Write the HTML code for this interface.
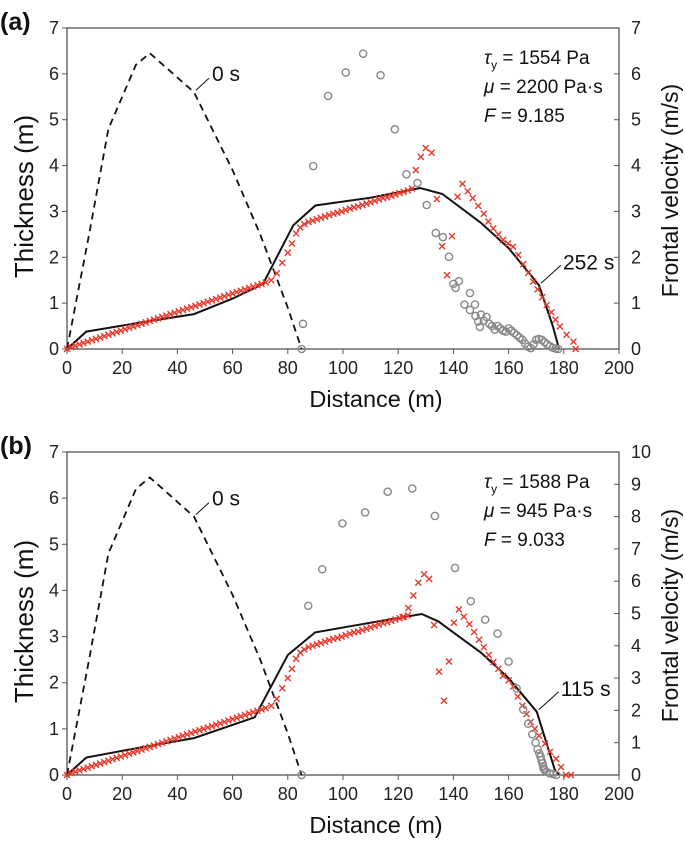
<!DOCTYPE html>
<html><head><meta charset="utf-8"><style>
body{margin:0;background:#fff;}
svg{display:block;font-family:"Liberation Sans",sans-serif;}
</style></head><body>
<svg id="c" width="685" height="848"></svg>
<script>
const initX = [0,8,15,25,30,46,60,70,80,85];
const initY = [0,2.5,4.8,6.2,6.45,5.6,3.9,2.5,0.9,0];
const simAX = [0,7,27,46,60,71,82,90,110,128,136,150,160,171,176,178.3];
const simAY = [0,0.38,0.58,0.76,1.1,1.42,2.7,3.13,3.3,3.51,3.38,2.75,2.2,1.39,0.5,0];
const simBX = [0,7,27,46,68,80,89.9,110,128.5,134.5,150,160,170.2,176.8,178.6];
const simBY = [0,0.38,0.6,0.8,1.25,2.6,3.09,3.3,3.49,3.33,2.65,2.1,1.37,0.1,0];
const baseX = [0,1.5,3,4.5,6,7.5,9,10.5,12,13.5,15,16.5,18,19.5,21,22.5,24,25.5,27,28.5,30,31.5,33,34.5,36,37.5,39,40.5,42,43.5,45,46.5,48,49.5,51,52.5,54,55.5,57,58.5,60,61.5,63,64.5,66,67.5,69,70.5,72,74,76,78,80,81.5,83,84.5,86,87.5,89,90.5,92,93.5,95,96.5,98,99.5,101,102.5,104,105.5,107,108.5,110,111.5,113,114.5,116,117.5,119,120.5,122,123.5];
const baseY = [0,0.04,0.07,0.1,0.13,0.16,0.19,0.22,0.25,0.28,0.31,0.34,0.37,0.4,0.43,0.46,0.49,0.52,0.55,0.58,0.61,0.64,0.67,0.7,0.73,0.76,0.79,0.82,0.85,0.88,0.91,0.94,0.97,1.0,1.03,1.06,1.09,1.12,1.15,1.18,1.21,1.24,1.27,1.3,1.33,1.36,1.39,1.42,1.45,1.5,1.65,1.88,2.1,2.3,2.52,2.65,2.72,2.77,2.8,2.83,2.86,2.89,2.92,2.95,2.97,3.0,3.03,3.06,3.09,3.11,3.14,3.17,3.2,3.23,3.26,3.29,3.31,3.34,3.37,3.4,3.43,3.46];
const obsAX = [125,126.4,128.2,130,132.1,134,135.9,137.7,139.5,141.5,143.3,145.2,147,149,151,152.7,154.4,156.3,158,159.8,161.6,163.5,165.3,167.1,168.9,170.5,172.2,173.8,175.5,177,178.6,181,183.5,184.3];
const obsAY = [3.5,3.9,4.19,4.38,4.28,3.27,2.24,1.61,2.46,3.32,3.6,3.44,3.29,3.12,2.95,2.78,2.63,2.5,2.38,2.3,2.23,2.05,1.85,1.66,1.47,1.3,1.13,0.96,0.8,0.64,0.49,0.31,0.16,0];
const obsBX = [121.6,123.7,125.5,127.3,129.4,131.2,133,134.8,136.6,138.4,140.2,142,143.8,145.8,147.5,149.3,151,152.8,154.5,156.3,158,160,161.7,163.3,165,166.5,168,169.5,171,173.2,175,177.2,179,180.8,182.6];
const obsBY = [3.42,3.62,3.89,4.17,4.35,4.25,3.25,2.24,1.61,2.46,3.3,3.59,3.43,3.27,3.1,2.93,2.77,2.6,2.45,2.3,2.15,2.05,1.92,1.7,1.5,1.32,1.15,1.0,0.85,0.68,0.5,0.35,0.17,0,0];
const velAX = [85,85.5,89.2,94.6,101,107.3,113.6,118.8,123,127,130.3,133.6,136.2,138.4,140,140.8,142,144,146,147.8,146,148,149,149.6,150,151,152,153,154,155,156,157,158,159,160,161,162,163,164,165,166,167,168,169,170,171,172,173,174,175,176,177,178];
const velAY = [0,0.55,3.99,5.52,6.03,6.44,5.97,4.79,3.81,3.62,3.14,2.53,2.44,2.01,1.42,1.33,1.48,0.97,1.22,0.97,0.85,0.72,0.6,0.48,0.75,0.62,0.7,0.55,0.5,0.42,0.5,0.45,0.4,0.38,0.45,0.4,0.35,0.3,0.25,0.2,0.12,0.05,0.02,0.1,0.2,0.22,0.2,0.15,0.1,0.06,0.03,0.01,0];
const velBX = [85,87.4,92.5,99.8,108,116.2,125.1,133.3,140.6,146.3,151.5,156,160,162.9,165.3,167.1,168.6,169.8,170.5,171.1,171.6,171.9,172.3,172.5,172.7,173.1,173.7,174.9,176.1,177.3];
const velBY = [0,5.24,6.37,7.79,8.13,8.77,8.87,8.02,6.41,5.38,4.81,4.38,3.51,2.68,2.03,1.59,1.26,1.0,0.8,0.67,0.57,0.46,0.36,0.27,0.2,0.15,0.1,0.05,0.03,0];
const xTicks = [0,20,40,60,80,100,120,140,160,180,200];
const leftTicks = [0,1,2,3,4,5,6,7];
const rightTicksA = [0,1,2,3,4,5,6,7];
const rightTicksB = [0,1,2,3,4,5,6,7,8,9,10];

const NS="http://www.w3.org/2000/svg";
const svg=document.getElementById('c');
function mk(tag,attrs,parent,text){const e=document.createElementNS(NS,tag);for(const k in attrs)e.setAttribute(k,attrs[k]);if(text!==undefined)e.textContent=text;(parent||svg).appendChild(e);return e;}

function panel(o){
  const L=67,R=619,T=o.top,B=o.bot;
  const sx=v=>L+(v/200)*(R-L);
  const sy=v=>B-(v/7)*(B-T);
  const sr=v=>B-(v/o.rmax)*(B-T);
  const g=mk('g',{});
  
  
  const fr=mk('rect',{x:L,y:T,width:R-L,height:B-T,fill:'none',stroke:'#555','stroke-width':1.3},g);
  
  
  xTicks.forEach(v=>{
    mk('line',{x1:sx(v),x2:sx(v),y1:B,y2:B+5,stroke:'#555'},g);
    const t=mk('text',{x:sx(v),y:B+25,'text-anchor':'middle','font-size':18,fill:'#222'},g,v);
    
    
  });
  leftTicks.forEach(v=>{
    mk('line',{x1:L-5,x2:L,y1:sy(v),y2:sy(v),stroke:'#555'},g);
    const t=mk('text',{x:L-8,y:sy(v)+6,'text-anchor':'end','font-size':18,fill:'#222'},g,v);
    
    
  });
  o.rticks.forEach(v=>{
    mk('line',{x1:R-5,x2:R,y1:sr(v),y2:sr(v),stroke:'#555'},g);
    const t=mk('text',{x:R+12,y:sr(v)+6,'font-size':18,fill:'#222'},g,v);
    
    
  });
  const lineOf=(xs,ys,extra,name)=>{const p=mk('polyline',Object.assign({points:xs.map((x,i)=>sx(x).toFixed(1)+','+sy(ys[i]).toFixed(1)).join(' '),fill:'none',stroke:'#111','stroke-width':2},extra),g);
    
    };
  lineOf(initX,initY,{'stroke-dasharray':'7,5','stroke-width':1.8},'initial-profile-0s');
  lineOf(o.simX,o.simY,{},'simulated-profile');
  const ox=baseX.concat(o.obsX), oy=baseY.concat(o.obsY);
  ox.forEach((x,i)=>{
    const cx=sx(x),cy=sy(oy[i]);
    const p=mk('path',{d:`M${cx-3},${cy-3}L${cx+3},${cy+3}M${cx-3},${cy+3}L${cx+3},${cy-3}`,stroke:'#e8382b','stroke-width':1.4,fill:'none'},g);
    
    
  });
  o.velX.forEach((x,i)=>{
    const c=mk('circle',{cx:sx(x),cy:sr(o.velY[i]),r:3.6,fill:'none',stroke:'#888','stroke-width':1.4},g);
    
    
  });
  mk('line',{x1:sx(46)+2,y1:sy(5.6)-2,x2:sx(46)+15,y2:sy(5.6)-14,stroke:'#111'},g);
  let t=mk('text',{x:sx(46)+18,y:sy(5.6)-11,'font-size':21,fill:'#111'},g,'0 s');
  
  
  mk('line',{x1:sx(o.lx)+2,y1:sy(o.ly)-2,x2:sx(o.lx)+22,y2:sy(o.ly)-20,stroke:'#111'},g);
  t=mk('text',{x:sx(o.lx)+24,y:sy(o.ly)-16,'font-size':21,fill:'#111'},g,o.time);
  
  
  const par=[['τ','y',' = '+o.tau+' Pa'],['μ','',' = '+o.mu+' Pa·s'],['F','',' = '+o.F]];
  par.forEach((p,i)=>{
    const tt=mk('text',{x:484,y:T+36+i*29,'font-size':19,fill:'#111'},g);
    
    
    mk('tspan',{'font-style':'italic'},tt,p[0]);
    if(p[1]){mk('tspan',{'font-size':12,dy:5},tt,p[1]);mk('tspan',{dy:-5},tt,p[2]);} else mk('tspan',{},tt,p[2]);
  });
  const cy=(T+B)/2;
  t=mk('text',{x:0,y:0,transform:`translate(33,${cy+8}) rotate(-90)`,'text-anchor':'middle','font-size':26,fill:'#111'},g,'Thickness (m)');
  
  
  t=mk('text',{x:0,y:0,transform:`translate(678,${cy+2}) rotate(-90)`,'text-anchor':'middle','font-size':23,fill:'#111'},g,'Frontal velocity (m/s)');
  
  
  t=mk('text',{x:376,y:B+58,'text-anchor':'middle','font-size':23.5,fill:'#111'},g,'Distance (m)');
  
  
  t=mk('text',{x:0,y:T+2,'font-size':25,'font-weight':'bold',fill:'#111'},g,'('+o.id+')');
  
  
}
panel({id:'a',top:28,bot:349,rmax:7,rticks:rightTicksA,simX:simAX,simY:simAY,obsX:obsAX,obsY:obsAY,velX:velAX,velY:velAY,lx:171,ly:1.39,time:'252 s',tau:1554,mu:2200,F:'9.185'});
panel({id:'b',top:452,bot:775,rmax:10,rticks:rightTicksB,simX:simBX,simY:simBY,obsX:obsBX,obsY:obsBY,velX:velBX,velY:velBY,lx:170.2,ly:1.37,time:'115 s',tau:1588,mu:945,F:'9.033'});
</script>
</body></html>
